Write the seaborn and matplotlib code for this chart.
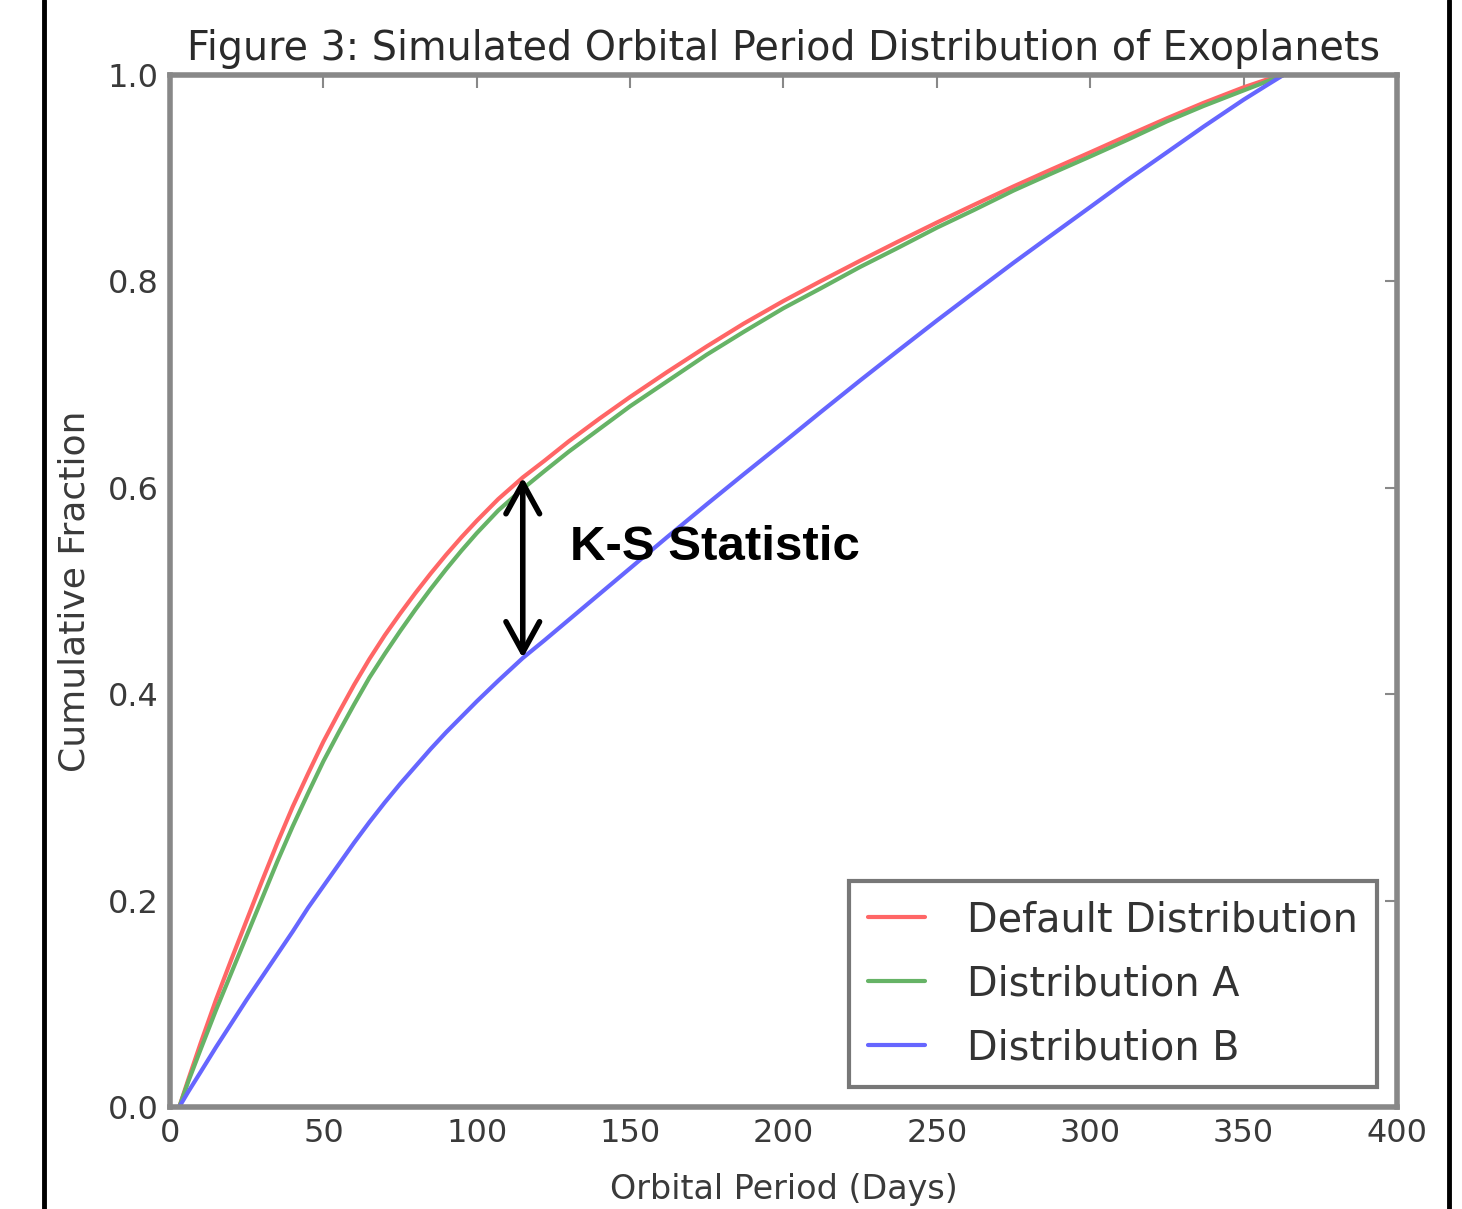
import matplotlib
matplotlib.use("Agg")
import matplotlib.pyplot as plt
import seaborn as sns
from matplotlib.lines import Line2D

# values (orbital period in days -> cumulative fraction)
days = [3, 6, 10, 15, 20, 25, 30, 35, 40, 45, 50, 55, 60, 65, 70, 75, 80, 85,
        90, 95, 100, 107, 115, 122, 130, 140, 150, 162, 175, 187, 200, 212,
        225, 237, 250, 262, 275, 287, 300, 312, 325, 337, 350, 357, 363]
default_frac = [0.000, 0.027, 0.062, 0.104, 0.143, 0.181, 0.219, 0.256, 0.291,
                0.323, 0.354, 0.382, 0.409, 0.434, 0.457, 0.478, 0.498, 0.517,
                0.535, 0.552, 0.568, 0.589, 0.610, 0.626, 0.645, 0.667, 0.688,
                0.712, 0.737, 0.759, 0.781, 0.800, 0.820, 0.838, 0.857, 0.874,
                0.892, 0.908, 0.925, 0.941, 0.958, 0.973, 0.988, 0.995, 1.000]
dist_a_frac = [0.000, 0.025, 0.056, 0.094, 0.130, 0.166, 0.202, 0.238, 0.272,
               0.304, 0.335, 0.363, 0.390, 0.416, 0.439, 0.461, 0.482, 0.502,
               0.521, 0.539, 0.556, 0.578, 0.599, 0.616, 0.635, 0.657, 0.679,
               0.703, 0.729, 0.751, 0.774, 0.793, 0.814, 0.832, 0.852, 0.869,
               0.888, 0.904, 0.921, 0.937, 0.955, 0.970, 0.985, 0.993, 1.000]
dist_b_frac = [0.000, 0.015, 0.034, 0.058, 0.081, 0.104, 0.126, 0.148, 0.170,
               0.193, 0.214, 0.235, 0.256, 0.276, 0.295, 0.313, 0.330, 0.347,
               0.363, 0.378, 0.393, 0.413, 0.435, 0.452, 0.472, 0.497, 0.522,
               0.552, 0.584, 0.613, 0.644, 0.673, 0.704, 0.732, 0.762, 0.789,
               0.818, 0.844, 0.872, 0.898, 0.925, 0.950, 0.976, 0.989, 1.000]

series_names = ["Default Distribution", "Distribution A", "Distribution B"]
series_vals = [default_frac, dist_a_frac, dist_b_frac]
colors = ["#ff6666", "#66b366", "#6666ff"]

x_ticks = [0, 50, 100, 150, 200, 250, 300, 350, 400]
y_ticks = [0.0, 0.2, 0.4, 0.6, 0.8, 1.0]

ks_day = 115
ks_label = "K-S Statistic"

sns.set_style("white")
plt.rcParams['font.family'] = ['DejaVu Sans']

fig = plt.figure(figsize=(14.62, 12.09), dpi=100)
ax = fig.add_axes([0.1163, 0.0844, 0.8392, 0.8536])

for name, vals, c in zip(series_names, series_vals, colors):
    sns.lineplot(x=days, y=vals, color=c, lw=3, label=name, ax=ax, sort=False)

# K-S arrow between the default curve and distribution B
i = days.index(ks_day)
ax.annotate("", xy=(ks_day, default_frac[i]), xytext=(ks_day, dist_b_frac[i]),
            arrowprops=dict(arrowstyle="<->,head_length=0.4,head_width=0.22",
                            color="black", lw=4, mutation_scale=55,
                            shrinkA=0, shrinkB=0))
ax.text(130.5, 0.542, ks_label, fontsize=35.5, fontweight="bold",
        family="Liberation Sans", va="center", ha="left", color="black")

ax.set_xlim(0, 400)
ax.set_ylim(0, 1)
ax.set_xticks(x_ticks)
ax.set_yticks(y_ticks)
ax.set_yticklabels([f"{v:.1f}" for v in y_ticks])
ax.tick_params(direction="in", top=True, right=True, length=9, width=1.5,
               color="#888888", labelsize=23, labelcolor="#3a3a3a", pad=8)
for sp in ax.spines.values():
    sp.set_color("#888888")
    sp.set_linewidth(4)

ax.set_title("Figure 3: Simulated Orbital Period Distribution of Exoplanets",
             fontsize=28.5, color="#2a2a2a", pad=11)
ax.set_xlabel("Orbital Period (Days)", fontsize=24, color="#3a3a3a", labelpad=17)
ax.set_ylabel("Cumulative Fraction", fontsize=26, color="#3a3a3a", labelpad=12)

leg = ax.legend(loc="lower right", fontsize=28.6, frameon=True, fancybox=False,
                handlelength=1.44, handletextpad=1.06, labelspacing=0.6,
                borderpad=0.48, framealpha=1)
leg.get_frame().set_edgecolor("#777777")
leg.get_frame().set_linewidth(3)
for t in leg.get_texts():
    t.set_color("#333333")

# page border lines at the sides
for xf in (44 / 1462, 1449 / 1462):
    fig.add_artist(Line2D([xf, xf], [0, 1], transform=fig.transFigure,
                          color="black", lw=3.5))

fig.savefig("out.png", dpi=100, facecolor="white")
